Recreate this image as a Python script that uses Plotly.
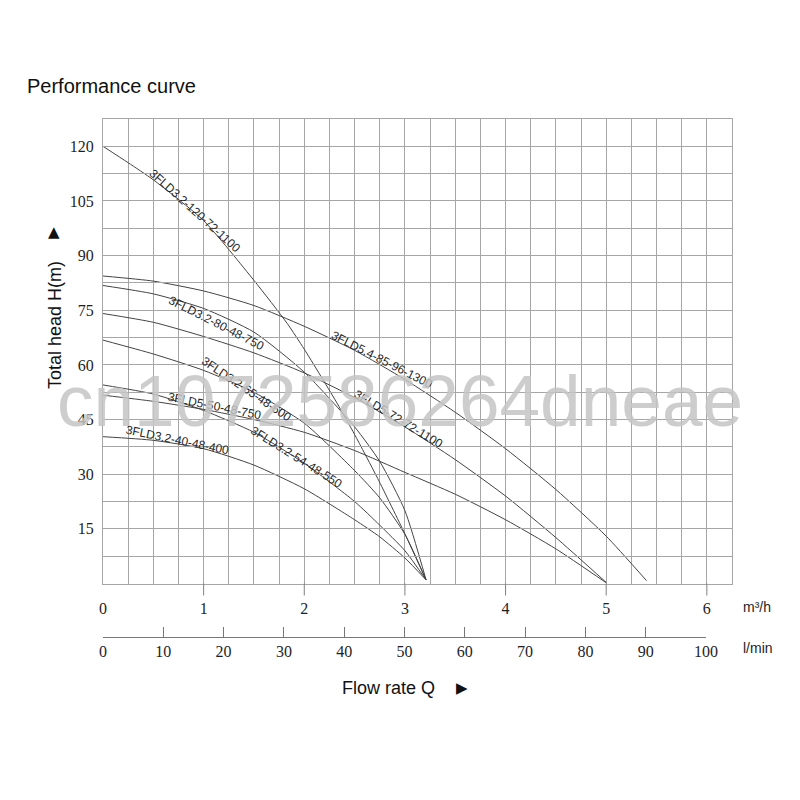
import plotly.graph_objects as go

# ---------------- data ----------------
pump_names = [
    "3FLD3.2-120-72-1100",
    "3FLD5.4-85-96-1300",
    "3FLD3.2-80-48-750",
    "3FLD5-72-72-1100",
    "3FLD3.2-65-48-600",
    "3FLD3.2-54-48-550",
    "3FLD5-50-48-750",
    "3FLD3.2-40-48-400",
]

q_120 = [0, 0.25, 0.5, 1.0, 1.5, 1.83, 2.0, 2.33, 2.5, 2.73, 3.0, 3.21]
h_120 = [120, 115.5, 110.8, 99.6, 83.2, 71.4, 64.3, 49.3, 40.9, 28.8, 13.6, 1]

q_85 = [0, 0.5, 1.0, 1.5, 2.0, 2.5, 3.0, 3.5, 4.0, 4.5, 5.0, 5.4]
h_85 = [84.4, 83.0, 80.3, 76.3, 70.6, 64.0, 56.0, 47.0, 37.0, 25.8, 13.0, 0.8]

q_80 = [0, 0.5, 1.0, 1.5, 2.0, 2.5, 2.75, 3.0, 3.21]
h_80 = [81.8, 79.5, 75.5, 69.0, 58.0, 43.0, 33.5, 20.0, 1]

q_72 = [0, 0.5, 1.0, 1.5, 2.0, 2.5, 3.0, 3.5, 4.0, 4.5, 5.0]
h_72 = [74.1, 71.7, 67.8, 63.3, 57.8, 51.0, 43.0, 34.0, 24.0, 12.6, 0.3]

q_65 = [0, 0.5, 1.0, 1.5, 2.0, 2.5, 2.75, 3.0, 3.21]
h_65 = [66.8, 63.0, 58.5, 52.5, 44.0, 31.0, 23.5, 13.5, 1]

q_54 = [0, 0.5, 1.0, 1.5, 2.0, 2.5, 2.75, 3.0, 3.21]
h_54 = [54.5, 52.0, 47.5, 41.5, 33.0, 22.5, 16.0, 9.0, 1]

q_50 = [0, 0.5, 1.0, 1.5, 2.0, 2.5, 3.0, 3.5, 4.0, 4.5, 5.0]
h_50 = [51.7, 50.0, 47.8, 45.0, 41.5, 36.5, 30.5, 24.5, 17.5, 9.5, 0.2]

q_40 = [0, 0.5, 1.0, 1.5, 2.0, 2.5, 2.75, 3.0, 3.21]
h_40 = [40.3, 39.3, 37.0, 32.5, 26.0, 17.5, 12.8, 7.0, 1]

series = [
    (q_120, h_120), (q_85, h_85), (q_80, h_80), (q_72, h_72),
    (q_65, h_65), (q_54, h_54), (q_50, h_50), (q_40, h_40),
]

head_ticks = [15, 30, 45, 60, 75, 90, 105, 120]
flow_m3h_ticks = [0, 1, 2, 3, 4, 5, 6]
flow_m3h_tickmarks = [1, 2, 3, 4, 5, 6]
flow_lmin_ticks = [0, 10, 20, 30, 40, 50, 60, 70, 80, 90, 100]

# ---------------- label placement (data coords) and angles ----------------
label_pos = [
    (0.915, 102.2, 42),
    (2.776, 61.3, 27),
    (1.124, 71.5, 27),
    (2.935, 45.1, 31),
    (1.423, 53.4, 34),
    (1.920, 34.7, 32),
    (1.104, 48.7, 11.5),
    (0.736, 39.4, 11.5),
]

# ---------------- figure ----------------
OFF = 8  # page body margin of the html page
W, H = 800, 800
PL, PR, PT, PB = 103, 732, 119, 700          # page pixel box of the paper area
ML, MT = PL - OFF, PT - OFF
MR, MB = W - (PR - OFF), H - (PB - OFF)
PW, PH = PR - PL, PB - PT


def px(x):
    return (x - PL) / PW


def py(y):
    return (PB - y) / PH


GRID = "#a6a6a6"
CURVE = "#444444"
TXT = "#1e1e1e"
SERIF = "Liberation Serif, Times New Roman, serif"
SANS = "Liberation Sans, Arial, sans-serif"

fig = go.Figure()
for (q, h) in series:
    fig.add_trace(go.Scatter(
        x=q, y=h, mode="lines",
        line=dict(color=CURVE, width=1, shape="spline", smoothing=0.6),
        hoverinfo="skip", showlegend=False,
    ))

# invisible trace that makes the l/min axis exist
fig.add_trace(go.Scatter(x=[0, 100], y=[None, None], xaxis="x3", yaxis="y",
                         mode="lines", showlegend=False, hoverinfo="skip"))

plot_bottom_px = 583.5
m3h_tick_end_px = 595.5
lmin_axis_px = 637

fig.update_layout(
    width=W, height=H,
    margin=dict(l=ML, r=MR, t=MT, b=MB, pad=0),
    paper_bgcolor="white", plot_bgcolor="rgba(0,0,0,0)",
    showlegend=False,
    xaxis=dict(
        range=[0, 6.25], domain=[0, 1],
        tickmode="array", tickvals=flow_m3h_ticks,
        ticks="", showgrid=True, gridcolor=GRID, gridwidth=1,
        minor=dict(tickmode="linear", tick0=0, dtick=0.25, showgrid=True,
                   gridcolor=GRID, gridwidth=1, ticks=""),
        showline=True, mirror=True, linecolor=GRID, linewidth=1,
        zeroline=False,
        tickfont=dict(family=SERIF, size=16, color=TXT),
        ticklabelstandoff=10,
    ),
    yaxis=dict(
        range=[0, 127.5], domain=[py(plot_bottom_px), 1],
        tickmode="array", tickvals=head_ticks,
        ticks="", showgrid=True, gridcolor=GRID, gridwidth=1,
        minor=dict(tickmode="linear", tick0=0, dtick=7.5, showgrid=True,
                   gridcolor=GRID, gridwidth=1, ticks=""),
        showline=True, mirror=True, linecolor=GRID, linewidth=1,
        zeroline=False,
        tickfont=dict(family=SERIF, size=16, color=TXT),
        ticklabelstandoff=5,
    ),
    xaxis3=dict(
        range=[0, 100], domain=[0, px(103 + 6 * 100.5)],
        anchor="free", position=py(lmin_axis_px), side="bottom",
        tickmode="array", tickvals=flow_lmin_ticks,
        ticks="inside", ticklen=10, tickcolor="#777777", tickwidth=1,
        showline=True, linecolor="#777777", linewidth=1,
        showgrid=False, zeroline=False,
        tickfont=dict(family=SERIF, size=16, color=TXT),
        ticklabelstandoff=0,
    ),
)

# m³/h tick marks hanging below the plot, placed through the x axis scale
tick_shapes = [
    dict(type="line", xref="x", yref="paper",
         x0=v, x1=v, y0=py(plot_bottom_px), y1=py(m3h_tick_end_px),
         line=dict(color="#808080", width=1), layer="above")
    for v in flow_m3h_tickmarks
]
fig.update_layout(shapes=tick_shapes)

annotations = []
for name, (lx, ly, ang) in zip(pump_names, label_pos):
    annotations.append(dict(
        x=lx, y=ly, xref="x", yref="y", text=name, showarrow=False,
        textangle=ang, font=dict(family=SANS, size=12, color="#262626"),
        xanchor="center", yanchor="middle",
    ))

# titles and axis units
annotations += [
    dict(x=px(25), y=py(86), xref="paper", yref="paper", text="Performance curve",
         showarrow=False, xanchor="left", yanchor="middle",
         font=dict(family=SANS, size=20, color="#111111")),
    dict(x=px(741), y=py(607), xref="paper", yref="paper", text="m³/h",
         showarrow=False, xanchor="left", yanchor="middle",
         font=dict(family=SANS, size=14, color=TXT)),
    dict(x=px(741), y=py(648), xref="paper", yref="paper", text="l/min",
         showarrow=False, xanchor="left", yanchor="middle",
         font=dict(family=SANS, size=14, color=TXT)),
    dict(x=px(388), y=py(688), xref="paper", yref="paper", text="Flow rate Q",
         showarrow=False, xanchor="center", yanchor="middle",
         font=dict(family=SANS, size=18, color="#111111")),
    dict(x=px(462), y=py(688), xref="paper", yref="paper", text="▶",
         showarrow=False, xanchor="center", yanchor="middle",
         font=dict(family="DejaVu Sans, sans-serif", size=15, color="#111111")),
    dict(x=px(55), y=py(325), xref="paper", yref="paper", text="Total head H(m)",
         showarrow=False, xanchor="center", yanchor="middle", textangle=-90,
         font=dict(family=SANS, size=18, color="#111111")),
    dict(x=px(54), y=py(232), xref="paper", yref="paper", text="▲",
         showarrow=False, xanchor="center", yanchor="middle",
         font=dict(family="DejaVu Sans, sans-serif", size=15, color="#111111")),
    # watermark present in the reference picture
    dict(x=px(400), y=py(400), xref="paper", yref="paper", text="cn1072586264dneae",
         showarrow=False, xanchor="center", yanchor="middle",
         font=dict(family=SANS, size=73, color="rgba(196,196,196,0.85)")),
]
fig.update_layout(annotations=annotations)

fig.write_html("out.html")
